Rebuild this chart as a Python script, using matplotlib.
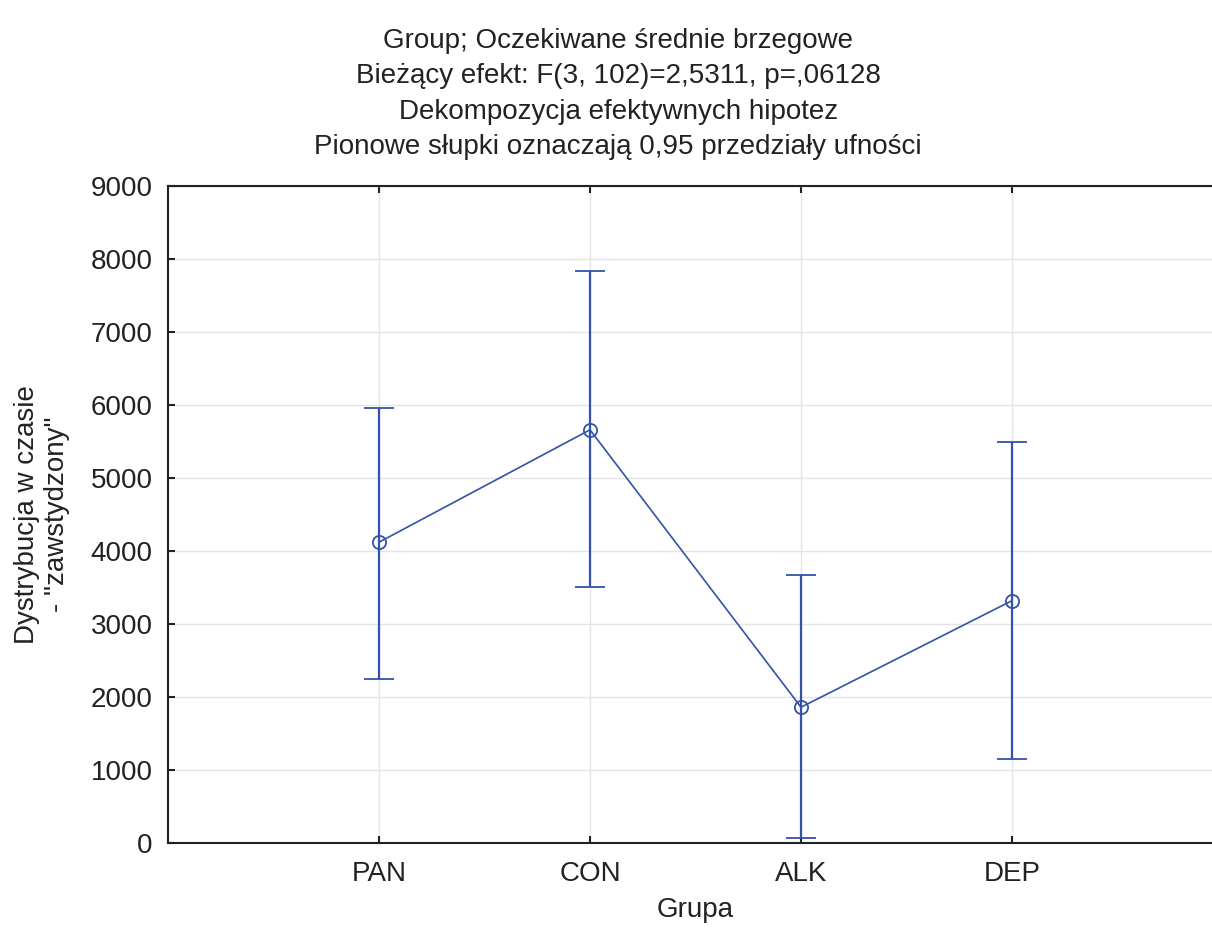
import matplotlib.pyplot as plt

# Dane
grupy = ["PAN", "CON", "ALK", "DEP"]
srednie = [4120, 5660, 1860, 3320]
dolne = [2245, 3505, 70, 1150]
gorne = [5960, 7840, 3665, 5490]

plt.rcParams['font.family'] = ['Liberation Sans', 'DejaVu Sans']
tekst_kolor = '#222222'

fig = plt.figure(figsize=(12.12, 9.34), dpi=100)
ax = fig.add_axes([0.1386, 0.0974, 0.8705, 0.7035])

x = list(range(1, len(grupy) + 1))
err_dol = [s - d for s, d in zip(srednie, dolne)]
err_gor = [g - s for g, s in zip(gorne, srednie)]
kolor = "#3352a8"

ax.errorbar(x, srednie, yerr=[err_dol, err_gor], color=kolor, lw=1.2,
            marker='o', ms=9.5, mfc='none', mec=kolor, mew=1.3,
            capsize=11, capthick=1.6, elinewidth=1.6)

ax.set_xlim(0, 5)
ax.set_ylim(0, 9000)
ax.set_xticks(x)
ax.set_xticklabels(grupy)
ax.set_yticks(range(0, 9001, 1000))
ax.grid(True, color='#e4e4e4', lw=1)
ax.set_axisbelow(True)

for s in ['left', 'bottom', 'top']:
    ax.spines[s].set_linewidth(1.5)
    ax.spines[s].set_color(tekst_kolor)
ax.spines['right'].set_visible(False)
ax.tick_params(direction='in', length=5, width=1.5, labelsize=20, pad=11,
               top=True, color=tekst_kolor, labelcolor=tekst_kolor)
ax.tick_params(axis='x', pad=13)

ax.set_xlabel("Grupa", fontsize=20, labelpad=7, color=tekst_kolor)
ax.set_ylabel('Dystrybucja w czasie\n- "zawstydzony"', fontsize=20, labelpad=15,
              color=tekst_kolor, linespacing=1.2)

tytul = ("Group; Oczekiwane średnie brzegowe\n"
         "Bieżący efekt: F(3, 102)=2,5311, p=,06128\n"
         "Dekompozycja efektywnych hipotez\n"
         "Pionowe słupki oznaczają 0,95 przedziały ufności")
fig.text(0.51, 0.970, tytul, ha='center', va='top', fontsize=20,
         linespacing=1.47, color=tekst_kolor)

fig.savefig("out.png", dpi=100)
